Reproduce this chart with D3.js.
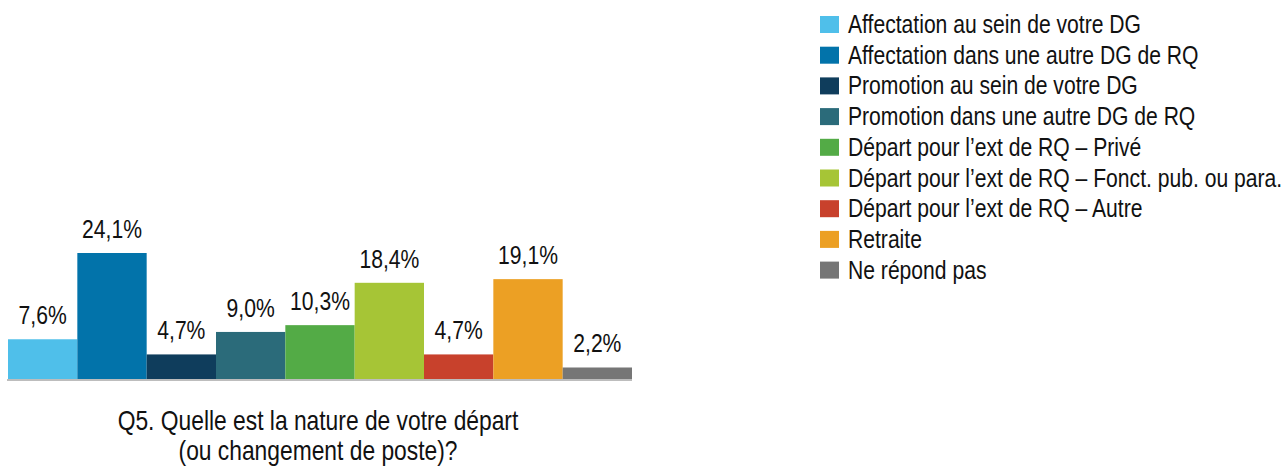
<!DOCTYPE html>
<html>
<head>
<meta charset="utf-8">
<script src="https://cdn.jsdelivr.net/npm/d3@7"></script>
<style>
  body { margin: 0; background: #fff; }
  svg text { font-family: "Liberation Sans", Arial, sans-serif; fill: #111; }
</style>
</head>
<body>
<svg id="chart" width="1282" height="468"></svg>
<script>
// Data
var categories = [
  "Affectation au sein de votre DG",
  "Affectation dans une autre DG de RQ",
  "Promotion au sein de votre DG",
  "Promotion dans une autre DG de RQ",
  "Départ pour l’ext de RQ – Privé",
  "Départ pour l’ext de RQ – Fonct. pub. ou para.",
  "Départ pour l’ext de RQ – Autre",
  "Retraite",
  "Ne répond pas"
];
var values = [7.6, 24.1, 4.7, 9.0, 10.3, 18.4, 4.7, 19.1, 2.2];
var colors = ["#4fbfea", "#0273aa", "#0f3d5c", "#2b6b7a", "#53ab46", "#a6c536", "#c8412c", "#eca024", "#767676"];
var titleLines = ["Q5. Quelle est la nature de votre départ", "(ou changement de poste)?"];

// the original font is a narrow face; squeeze the regular one horizontally
var narrow = 0.845;

var svg = d3.select("#chart");

var x = d3.scaleBand()
    .domain(categories)
    .range([8, 632])
    .padding(0);

var y = d3.scaleLinear()
    .domain([0, 24.1])
    .range([379, 253]);

var color = d3.scaleOrdinal().domain(categories).range(colors);

var fmt = function(v) { return d3.format(".1f")(v).replace(".", ",") + "%"; };

function place(px, py) {
  return "translate(" + px + "," + py + ") scale(" + narrow + ",1)";
}

// bars
svg.append("g").selectAll("rect")
  .data(values)
  .enter().append("rect")
    .attr("x", function(d, i) { return x(categories[i]); })
    .attr("y", function(d) { return y(d); })
    .attr("width", x.bandwidth())
    .attr("height", function(d) { return y(0) - y(d); })
    .attr("fill", function(d, i) { return color(categories[i]); });

// baseline axis
var axis = svg.append("g")
    .attr("transform", "translate(0," + (y(0) + 1) + ")")
    .call(d3.axisBottom(x).tickSize(0).tickFormat(""));
axis.select(".domain")
    .attr("stroke", "#bdbdbd")
    .attr("stroke-width", 2)
    .attr("d", "M7,0H632");

// value labels
svg.append("g").selectAll("text")
  .data(values)
  .enter().append("text")
    .attr("transform", function(d, i) { return place(x(categories[i]) + x.bandwidth() / 2, y(d) - 15); })
    .attr("text-anchor", "middle")
    .style("font-size", "25px")
    .text(fmt);

// title
svg.append("text")
    .attr("transform", place(318, 430))
    .attr("text-anchor", "middle")
    .style("font-size", "27px")
  .selectAll("tspan")
  .data(titleLines)
  .enter().append("tspan")
    .attr("x", 0)
    .attr("dy", function(d, i) { return i ? 30 : 0; })
    .text(function(d) { return d; });

// legend
var legendElem = svg.append("g")
    .attr("transform", "translate(820,16)")
  .selectAll("g")
  .data(categories)
  .enter().append("g")
    .attr("transform", function(d, i) { return "translate(0," + (i * 30.7) + ")"; });

legendElem.append("rect")
    .attr("width", 19)
    .attr("height", 17)
    .attr("fill", function(d) { return color(d); });

legendElem.append("text")
    .attr("transform", place(28, 17))
    .style("font-size", "25px")
    .text(function(d) { return d; });
</script>
</body>
</html>
